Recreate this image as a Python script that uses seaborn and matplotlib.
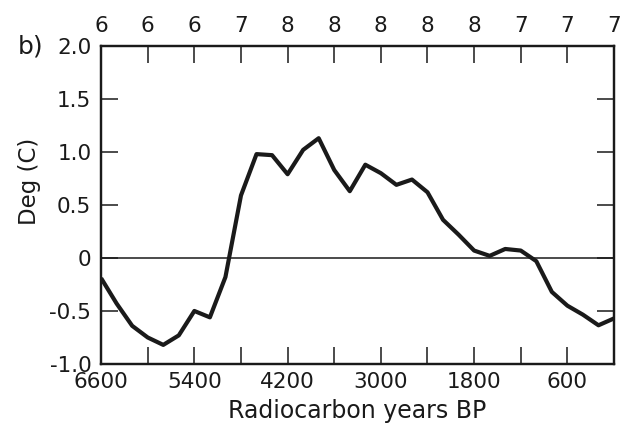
import matplotlib
matplotlib.use("Agg")
import matplotlib.pyplot as plt
import seaborn as sns
import pandas as pd

# Data
years = [6600, 6400, 6200, 6000, 5800, 5600, 5400, 5200, 5000, 4800, 4600, 4400,
         4200, 4000, 3800, 3600, 3400, 3200, 3000, 2800, 2600, 2400, 2200, 2000,
         1800, 1600, 1400, 1200, 1000, 800, 600, 400, 200, 0]
temps = [-0.19, -0.43, -0.64, -0.75, -0.82, -0.73, -0.50, -0.56, -0.18, 0.59, 0.98, 0.97,
         0.79, 1.02, 1.13, 0.83, 0.63, 0.88, 0.80, 0.69, 0.74, 0.62, 0.36, 0.22,
         0.07, 0.02, 0.085, 0.07, -0.03, -0.32, -0.45, -0.535, -0.635, -0.57]

bottom_ticks = [6600, 5400, 4200, 3000, 1800, 600]
bottom_minor = [6000, 4800, 3600, 2400, 1200]
top_ticks = [6600, 6000, 5400, 4800, 4200, 3600, 3000, 2400, 1800, 1200, 600, 0]
top_labels = ["6", "6", "6", "7", "8", "8", "8", "8", "8", "7", "7", "7"]
y_ticks = [2.0, 1.5, 1.0, 0.5, 0.0, -0.5, -1.0]
y_labels = ["2.0", "1.5", "1.0", "0.5", "0", "-0.5", "-1.0"]

sns.set_theme(style="ticks")
plt.rcParams['font.family'] = ['DejaVu Sans']
FS = 15.5
INK = "#1a1a1a"

fig = plt.figure(figsize=(6.24, 4.38), dpi=100)
ax = fig.add_axes([0.162, 0.169, 0.822, 0.726])

df = pd.DataFrame({"year": years, "temp": temps})
sns.lineplot(data=df, x="year", y="temp", ax=ax, color=INK, linewidth=3.0,
             solid_joinstyle="round", solid_capstyle="butt")
ax.axhline(0, color=INK, linewidth=1.1)

ax.set_xlim(6600, 0)
ax.set_ylim(-1.0, 2.0)

ax.set_xticks(bottom_ticks)
ax.set_xticklabels([str(t) for t in bottom_ticks], fontsize=FS, color=INK)
ax.set_xticks(bottom_minor, minor=True)
ax.set_yticks(y_ticks)
ax.set_yticklabels(y_labels, fontsize=FS, color=INK)

ax.tick_params(axis="x", which="both", direction="in", length=12, width=1.1,
               color=INK, pad=6, top=False)
ax.tick_params(axis="y", which="both", direction="in", length=12, width=1.1,
               color=INK, pad=7, right=True)

ax.set_xlabel("Radiocarbon years BP", fontsize=17, color=INK, labelpad=5)
ax.set_ylabel("Deg (C)", fontsize=16.5, color=INK)
ax.yaxis.set_label_coords(-0.118, 0.575)

for s in ax.spines.values():
    s.set_linewidth(1.6)
    s.set_color(INK)

ax2 = ax.twiny()
ax2.set_xlim(6600, 0)
ax2.set_xticks(top_ticks)
ax2.set_xticklabels(top_labels, fontsize=FS, color=INK)
ax2.tick_params(axis="x", direction="in", length=12, width=1.1, color=INK, pad=7)
for s in ax2.spines.values():
    s.set_linewidth(1.6)
    s.set_color(INK)

fig.text(0.028, 0.893, "b)", fontsize=18, color=INK, va="center", ha="left")

fig.savefig("out.png", dpi=100)
